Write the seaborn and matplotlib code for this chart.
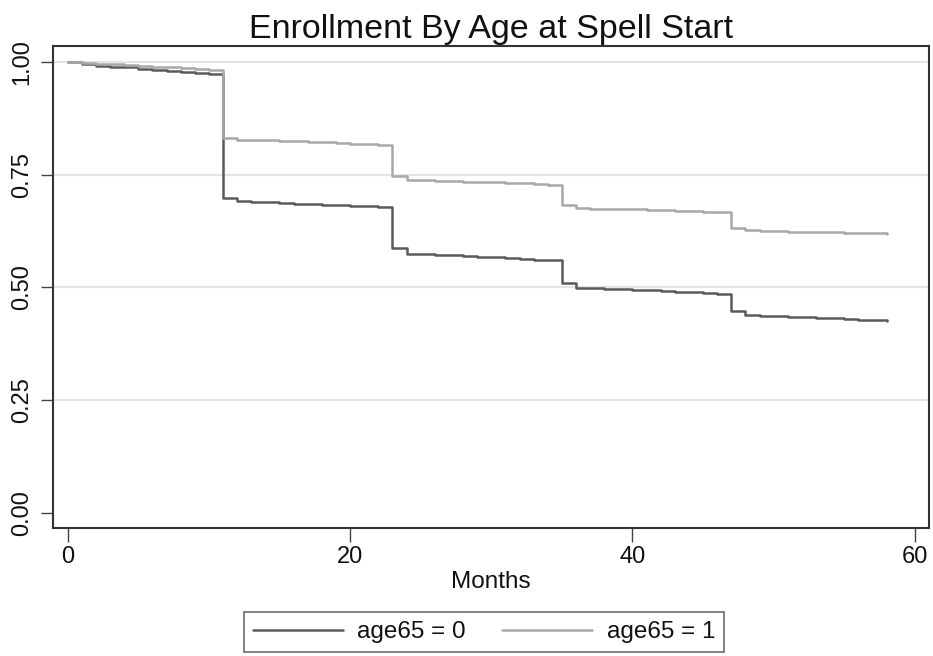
import matplotlib
matplotlib.use("Agg")
import matplotlib.pyplot as plt
import numpy as np
import pandas as pd
import seaborn as sns

# ---- data ----
months = list(range(59))
surv_age0 = [1.000, 0.995, 0.992, 0.990, 0.988, 0.985, 0.983, 0.981, 0.978, 0.976, 0.973,
             0.698, 0.691, 0.690, 0.689, 0.688, 0.686, 0.685, 0.684, 0.682, 0.681, 0.680, 0.678,
             0.588, 0.575, 0.574, 0.572, 0.571, 0.569, 0.568, 0.567, 0.565, 0.563, 0.562, 0.560,
             0.510, 0.499, 0.498, 0.497, 0.496, 0.495, 0.494, 0.492, 0.491, 0.490, 0.488, 0.486,
             0.447, 0.438, 0.437, 0.436, 0.435, 0.434, 0.433, 0.432, 0.430, 0.429, 0.427, 0.426]
surv_age1 = [1.000, 0.998, 0.996, 0.995, 0.993, 0.992, 0.990, 0.988, 0.987, 0.985, 0.983,
             0.832, 0.828, 0.827, 0.826, 0.825, 0.824, 0.823, 0.822, 0.820, 0.819, 0.818, 0.816,
             0.747, 0.739, 0.738, 0.737, 0.736, 0.735, 0.734, 0.733, 0.732, 0.731, 0.729, 0.728,
             0.682, 0.676, 0.675, 0.674, 0.673, 0.673, 0.672, 0.671, 0.670, 0.669, 0.668, 0.667,
             0.632, 0.627, 0.626, 0.625, 0.624, 0.624, 0.623, 0.622, 0.621, 0.621, 0.620, 0.619]
group_labels = ["age65 = 0", "age65 = 1"]
x_ticks = [0, 20, 40, 60]
y_ticks = [0.0, 0.25, 0.50, 0.75, 1.00]
y_tick_labels = ["0.00", "0.25", "0.50", "0.75", "1.00"]
title = "Enrollment By Age at Spell Start"
x_label = "Months"

df = pd.DataFrame({
    "Months": months + months,
    "survival": surv_age0 + surv_age1,
    "group": [group_labels[0]] * len(months) + [group_labels[1]] * len(months),
})

sns.set_theme(style="white")
plt.rcParams["font.family"] = ["Liberation Sans", "DejaVu Sans"]

W, H = 933, 656
fig = plt.figure(figsize=(W / 100, H / 100), dpi=100)
fig.patch.set_facecolor("white")
ax = fig.add_axes([52.7 / W, 1 - 528 / H, (929 - 52.7) / W, (528 - 46) / H])

# grid
for yv in y_ticks[1:]:
    ax.axhline(yv, color="#e3e3e3", lw=1.5, zorder=0)

sns.lineplot(data=df, x="Months", y="survival", hue="group",
             palette=["#5a5a5a", "#a8a8a8"], drawstyle="steps-post",
             linewidth=1.8, estimator=None, ax=ax, legend=True)

ax.set_xlim(-1.06, 61.0)
ax.set_ylim(-0.0333, 1.0355)
ax.set_xticks(x_ticks)
ax.set_xticklabels([str(v) for v in x_ticks])
ax.set_yticks(y_ticks)
ax.set_yticklabels(y_tick_labels, rotation=90, va="center")
ax.tick_params(axis="both", which="major", direction="out", width=1.0,
               color="#444444", labelsize=17, labelcolor="#111111",
               bottom=True, left=True, top=False, right=False)
ax.tick_params(axis="x", pad=3, length=10)
ax.tick_params(axis="y", pad=5, length=9)
for s in ax.spines.values():
    s.set_visible(True)
    s.set_color("#333333")
    s.set_linewidth(1.5)

ax.set_xlabel(x_label, fontsize=17.5, color="#111111", labelpad=2)
ax.set_ylabel("")
ax.set_title(title, fontsize=24.5, color="#111111", pad=6)

handles, labels = ax.get_legend_handles_labels()
ax.get_legend().remove()
leg = fig.legend(handles, labels, loc="center", bbox_to_anchor=(484 / W, 1 - 632 / H),
                 ncol=2, frameon=True, fancybox=False, fontsize=17.5,
                 handlelength=3.7, handletextpad=0.6, columnspacing=1.5,
                 borderpad=0.35, borderaxespad=0)
leg.get_frame().set_edgecolor("#555555")
leg.get_frame().set_linewidth(1.3)
for t in leg.get_texts():
    t.set_color("#111111")

fig.savefig("out.png", dpi=100, facecolor="white")
